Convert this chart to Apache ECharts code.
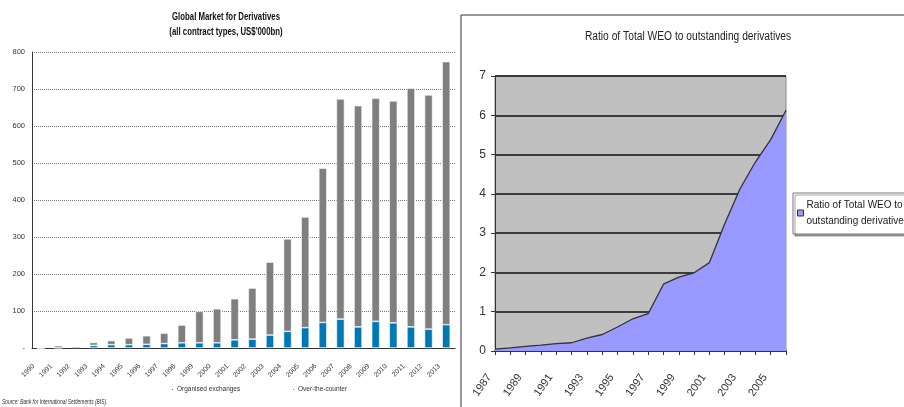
<!DOCTYPE html>
<html><head><meta charset="utf-8">
<script src="https://cdn.jsdelivr.net/npm/echarts@6/dist/echarts.min.js"></script>
<style>html,body{margin:0;padding:0;background:#fff}#c{width:904px;height:407px}</style>
</head><body><div id="c"></div>
<script>
const years = ['1990','1991','1992','1993','1994','1995','1996','1997','1998','1999','2000','2001','2002','2003','2004','2005','2006','2007','2008','2009','2010','2011','2012','2013'];
const exchanges = [0, 0, 4, 7, 9, 9, 10, 12, 14, 14, 14, 22, 24, 35, 45, 55, 69, 78, 57, 72, 68, 57, 51, 63];
const otc = [0, 6, 0, 8, 11, 18, 23, 28, 48, 85, 92, 111, 138, 197, 250, 299, 417, 595, 598, 603, 600, 645, 633, 711];
const leftTicks = [0, 100, 200, 300, 400, 500, 600, 700, 800];

const ratioYears = ['1987','1988','1989','1990','1991','1992','1993','1994','1995','1996','1997','1998','1999','2000','2001','2002','2003','2004','2005','2006'];
const ratio = [0.05, 0.08, 0.12, 0.15, 0.19, 0.21, 0.33, 0.42, 0.61, 0.82, 0.95, 1.70, 1.88, 1.99, 2.25, 3.24, 4.13, 4.81, 5.38, 6.13];
const rightTicks = [0, 1, 2, 3, 4, 5, 6, 7];

const FONT = '"Liberation Sans", Arial, sans-serif';
const chart = echarts.init(document.getElementById('c'), null, {renderer: 'canvas'});
const ratioName = 'Ratio of Total WEO to\noutstanding derivatives';

function txt(text, x, y, size, sx, opts) {
  opts = opts || {};
  return {type: 'text', x: x, y: y, scaleX: sx, z: 10,
    style: {text: text, fill: opts.color || '#111', textAlign: opts.align || 'center', textVerticalAlign: 'middle',
      font: (opts.style || 'normal') + ' ' + (opts.weight || 'normal') + ' ' + size + 'px ' + FONT}};
}

chart.setOption({
  animation: false,
  backgroundColor: '#fff',
  graphic: [
    {type: 'rect', z: 0, shape: {x: 461, y: 15, width: 460, height: 400},
     style: {fill: 'none', stroke: '#333', lineWidth: 1}},
    txt('Global Market for Derivatives', 226, 17, 10, 0.78, {weight: 'bold'}),
    txt("(all contract types, US$'000bn)", 226, 32, 10, 0.78, {weight: 'bold'}),
    txt('Ratio of Total WEO to outstanding derivatives', 688, 37, 12.5, 0.82, {color: '#222'}),
    txt('Source: Bank for International Settlements (BIS).', 2, 402, 6.5, 0.75, {align: 'left', style: 'italic', color: '#333'})
  ],
  legend: [
    {data: ['Organised exchanges'], left: 170, top: 386, icon: 'rect', itemWidth: 3, itemHeight: 3, itemGap: 2, padding: 0,
     textStyle: {fontFamily: FONT, fontSize: 6.5, color: '#333', padding: [0,0,0,-2]}},
    {data: ['Over-the-counter'], left: 291, top: 386, icon: 'rect', itemWidth: 3, itemHeight: 3, itemGap: 2, padding: 0,
     textStyle: {fontFamily: FONT, fontSize: 6.5, color: '#333', padding: [0,0,0,-2]}},
    {data: [ratioName], left: 793, top: 193, orient: 'vertical', icon: 'rect', itemWidth: 6, itemHeight: 6,
     padding: [4, 4, 5, 4], backgroundColor: '#fff', borderColor: '#777', borderWidth: 1,
     shadowColor: 'rgba(0,0,0,0.35)', shadowOffsetX: 2, shadowOffsetY: 2, shadowBlur: 0,
     itemStyle: {borderColor: '#333', borderWidth: 1},
     textStyle: {fontFamily: FONT, fontSize: 10, color: '#222', lineHeight: 16, padding: [0,0,0,-2]}}
  ],
  grid: [
    {left: 32, right: 449, top: 52, bottom: 59},
    {left: 495, right: 118, top: 76, bottom: 56, show: true, backgroundColor: '#c0c0c0', borderColor: '#888', borderWidth: 1}
  ],
  xAxis: [
    {type: 'category', gridIndex: 0, data: years,
     axisLine: {lineStyle: {color: '#333', width: 1}}, axisTick: {show: false},
     axisLabel: {rotate: 45, interval: 0, fontFamily: FONT, fontSize: 7, color: '#333', margin: 10, padding: [0, 10, 0, 0]}},
    {type: 'category', gridIndex: 1, data: ratioYears, boundaryGap: false,
     axisLine: {lineStyle: {color: '#333', width: 1.5}},
     axisTick: {show: true, interval: 0, length: 4, lineStyle: {color: '#333'}},
     axisLabel: {rotate: 55, interval: 1, fontFamily: FONT, fontSize: 11, color: '#333', margin: 16, padding: [0, 10, 0, 0]}}
  ],
  yAxis: [
    {type: 'value', gridIndex: 0, min: leftTicks[0], max: leftTicks[leftTicks.length-1], interval: 100,
     axisLine: {show: true, lineStyle: {color: '#333', width: 1}}, axisTick: {show: false},
     splitLine: {lineStyle: {type: 'dotted', color: '#777', width: 1}},
     axisLabel: {fontFamily: FONT, fontSize: 7.5, color: '#333', margin: 7,
       formatter: v => (v === 0 ? '-' : String(v))}},
    {type: 'value', gridIndex: 1, min: rightTicks[0], max: rightTicks[rightTicks.length-1], interval: 1,
     axisLine: {show: true, lineStyle: {color: '#333', width: 1}},
     axisTick: {show: true, length: 4, lineStyle: {color: '#333'}},
     splitLine: {lineStyle: {color: '#111', width: 1.5}},
     axisLabel: {fontFamily: FONT, fontSize: 12, color: '#333', margin: 9}}
  ],
  series: [
    {name: 'Organised exchanges', type: 'bar', stack: 'a', xAxisIndex: 0, yAxisIndex: 0, data: exchanges,
     barWidth: 8, itemStyle: {color: '#0078b4', borderColor: '#fff', borderWidth: 0.6}},
    {name: 'Over-the-counter', type: 'bar', stack: 'a', xAxisIndex: 0, yAxisIndex: 0, data: otc,
     barWidth: 8, itemStyle: {color: '#7f7f7f', borderColor: '#fff', borderWidth: 0.6}},
    {name: ratioName, type: 'line', xAxisIndex: 1, yAxisIndex: 1, data: ratio, symbol: 'none',
     itemStyle: {color: '#9999ff'},
     lineStyle: {color: '#333', width: 1.3}, areaStyle: {color: '#9999ff', opacity: 1}}
  ]
});
</script></body></html>
